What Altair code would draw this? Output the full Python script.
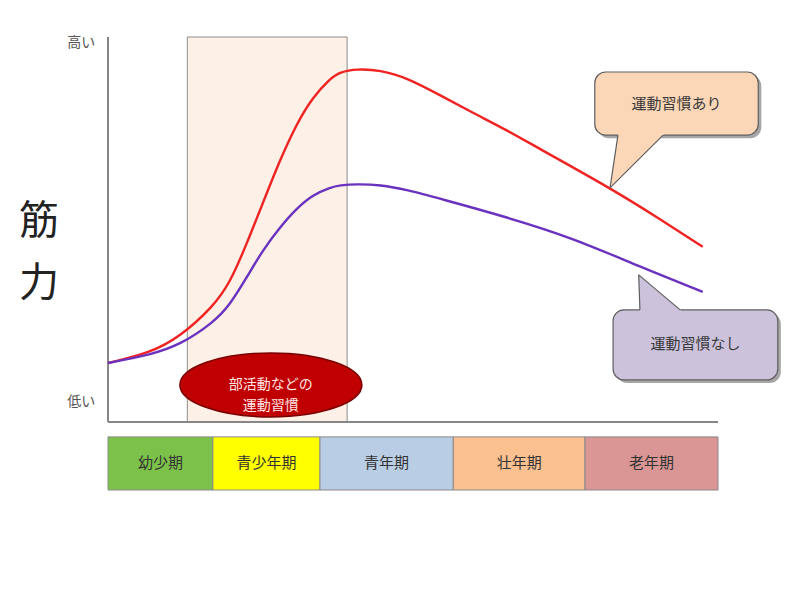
import altair as alt
import pandas as pd

FONT = "Noto Sans CJK JP"

# ---- curves (life course 0-100, strength 0=低い ... 100=高い) ----
AGE_ACTIVE = [0, 6.9, 11.8, 17.2, 20.0, 22.8, 25.4, 28.2, 31.0, 33.6, 36.4, 38.0, 40.8,
              44.6, 49.0, 54.4, 59.8, 65.4, 70.8, 82.3, 90.5, 97.5]
STR_ACTIVE = [15.3, 17.9, 22.1, 29.9, 36.1, 46.5, 56.9, 68.1, 77.7, 84.4, 89.2, 90.9, 91.7,
              91.4, 89.4, 84.9, 80.3, 75.8, 70.9, 60.8, 52.7, 45.5]
AGE_INACTIVE = [0, 6.9, 11.8, 17.2, 20.0, 22.8, 25.4, 28.2, 31.0, 33.6, 36.4, 38.0, 40.8,
                44.6, 49.0, 54.4, 65.4, 76.2, 87.2, 97.5]
STR_INACTIVE = [15.3, 17.4, 20.0, 25.7, 30.4, 37.7, 44.7, 50.6, 55.6, 59.0, 60.9, 61.5, 61.8,
                61.6, 60.3, 58.0, 53.2, 47.8, 40.3, 33.8]

# ---- life stages ----
STAGES = ["幼少期", "青少年期", "青年期", "壮年期", "老年期"]
STAGE_START = [0, 17.2, 34.75, 56.6, 78.2]
STAGE_END = [17.2, 34.75, 56.6, 78.2, 100]
STAGE_COLORS = ["#7cc24a", "#ffff00", "#b9cde5", "#fac090", "#d99694"]

# club-activity period
CLUB_START, CLUB_END = 13.0, 39.2

Y_MIN, Y_MAX = 0, 100
STRIP_TOP, STRIP_BOTTOM = -3.9, -17.7

X_SCALE = alt.Scale(domain=[0, 100], nice=False, zero=False)
Y_SCALE = alt.Scale(domain=[STRIP_BOTTOM, Y_MAX], nice=False, zero=False)


def X(f):
    return alt.X(f, type="quantitative", scale=X_SCALE, axis=None)


def Y(f):
    return alt.Y(f, type="quantitative", scale=Y_SCALE, axis=None)


# ---- club band ----
band = alt.Chart(pd.DataFrame({"x": [CLUB_START], "x2": [CLUB_END], "y": [Y_MIN], "y2": [Y_MAX]})).mark_rect(
    fill="#fdf0e7", stroke="#8c8c8c", strokeWidth=1
).encode(x=X("x"), x2="x2", y=Y("y"), y2="y2")

# ---- axes ----
axis_df = pd.DataFrame({"x": [0, 0], "x2": [0, 100], "y": [0, 0], "y2": [100, 0]})
axes = alt.Chart(axis_df).mark_rule(color="#868686", strokeWidth=2).encode(
    x=X("x"), x2="x2", y=Y("y"), y2="y2"
)

# ---- curves ----
active = alt.Chart(pd.DataFrame({"age": AGE_ACTIVE, "s": STR_ACTIVE})).mark_line(
    color="#f02222", strokeWidth=2.4, interpolate="basis"
).encode(x=X("age"), y=Y("s"))
inactive = alt.Chart(pd.DataFrame({"age": AGE_INACTIVE, "s": STR_INACTIVE})).mark_line(
    color="#6a32bf", strokeWidth=2.4, interpolate="basis"
).encode(x=X("age"), y=Y("s"))

# ---- ellipse annotation ----
ELL_X, ELL_Y = 26.7, 9.6
ellipse = alt.Chart(pd.DataFrame({"x": [ELL_X], "y": [ELL_Y]})).mark_point(
    shape="M -1 0 A 1 0.352 0 1 1 1 0 A 1 0.352 0 1 1 -1 0 Z",
    size=33124, filled=True, fill="#c00000", stroke="#7a0000", strokeWidth=1.5, opacity=1
).encode(x=X("x"), y=Y("y"))
ellipse_text = alt.Chart(pd.DataFrame({"x": [ELL_X], "y": [ELL_Y], "t": ["部活動などの\n運動習慣"]})).mark_text(
    font=FONT, fontSize=14, color="#ffe6e6", lineBreak="\n", lineHeight=21, baseline="middle", align="center"
).encode(x=X("x"), y=Y("y"), text="t:N")


# ---- callouts ----
def tri_area(tip, b1, b2, ext=1.0):
    # extend base points along the sides into the box
    def extend(b):
        dy = b[1] - tip[1]
        f = 1 + ext / abs(dy)
        return (tip[0] + (b[0] - tip[0]) * f, tip[1] + dy * f)
    e1, e2 = extend(b1), extend(b2)
    y2_at_e1 = tip[1] + (e1[0] - tip[0]) / (e2[0] - tip[0]) * (e2[1] - tip[1])
    return pd.DataFrame({"x": [tip[0], e1[0], e2[0]], "y": [tip[1], e1[1], e2[1]],
                         "y2": [tip[1], y2_at_e1, e2[1]]})


def callout(label, box, tip, b1, b2, fill, text_pos):
    x0, x1, y0, y1 = box
    shadow = alt.Chart(pd.DataFrame({"x": [x0 + 0.5], "x2": [x1 + 0.5], "y": [y0 - 0.8], "y2": [y1 - 0.8]})).mark_rect(
        fill="#808080", opacity=0.7, cornerRadius=11
    ).encode(x=X("x"), x2="x2", y=Y("y"), y2="y2")
    body = alt.Chart(pd.DataFrame({"x": [x0], "x2": [x1], "y": [y0], "y2": [y1]})).mark_rect(
        fill=fill, stroke="#5f5f5f", strokeWidth=1.2, cornerRadius=11
    ).encode(x=X("x"), x2="x2", y=Y("y"), y2="y2")
    ptr = alt.Chart(tri_area(tip, b1, b2)).mark_area(fill=fill, opacity=1).encode(
        x=X("x"), y=Y("y"), y2="y2"
    )
    edges = alt.Chart(pd.DataFrame({"x": [tip[0], b1[0], tip[0], b2[0]], "y": [tip[1], b1[1], tip[1], b2[1]],
                                    "e": ["a", "a", "b", "b"]})).mark_line(color="#5f5f5f", strokeWidth=1.2).encode(
        x=X("x"), y=Y("y"), detail="e:N"
    )
    txt = alt.Chart(pd.DataFrame({"x": [text_pos[0]], "y": [text_pos[1]], "t": [label]})).mark_text(
        font=FONT, fontSize=15, color="#3a3a3a", align="center", baseline="middle"
    ).encode(x=X("x"), y=Y("y"), text="t:N")
    return [shadow, body, ptr, edges, txt]


call_a = callout("運動習慣あり", (79.8, 106.6, 74.5, 90.9), (82.3, 60.8), (83.6, 74.5), (91.0, 74.5),
                 "#fbd6b7", (93.2, 82.6))
call_b = callout("運動習慣なし", (82.8, 109.8, 10.9, 29.1), (87.0, 38.2), (87.2, 29.1), (93.8, 29.1),
                 "#ccc2dc", (96.3, 20.3))

# ---- life stage strip ----
strip_df = pd.DataFrame({"stage": STAGES, "x": STAGE_START, "x2": STAGE_END,
                         "mid": [(a + b) / 2 for a, b in zip(STAGE_START, STAGE_END)],
                         "y": [STRIP_TOP] * 5, "y2": [STRIP_BOTTOM] * 5,
                         "ym": [(STRIP_TOP + STRIP_BOTTOM) / 2] * 5})
strip = alt.Chart(strip_df).mark_rect(stroke="#8a8a8a", strokeWidth=1).encode(
    x=X("x"), x2="x2", y=Y("y"), y2="y2",
    fill=alt.Fill("stage:N", scale=alt.Scale(domain=STAGES, range=STAGE_COLORS), legend=None)
)
strip_text = alt.Chart(strip_df).mark_text(font=FONT, fontSize=15, color="#333333").encode(
    x=X("mid"), y=Y("ym"), text="stage:N"
)

# ---- y labels ----
ylab = alt.Chart(pd.DataFrame({"x": [-2.1, -2.1], "y": [98.4, 5.2], "t": ["高い", "低い"]})).mark_text(
    font=FONT, fontSize=14, color="#555555", align="right", baseline="middle"
).encode(x=X("x"), y=Y("y"), text="t:N")
ytitle = alt.Chart(pd.DataFrame({"x": [-11.3], "y": [51.9], "t": ["筋\n力"]})).mark_text(
    font=FONT, fontSize=40, color="#222222", align="center", baseline="middle", lineBreak="\n", lineHeight=62
).encode(x=X("x"), y=Y("y"), text="t:N")

chart = alt.layer(
    band, axes, active, inactive, ellipse, ellipse_text, *call_a, *call_b, strip, strip_text, ylab, ytitle
).properties(
    width=610, height=453,
    autosize=alt.AutoSizeParams(type="none"),
    padding={"left": 100, "top": 29, "right": 70, "bottom": 90},
    background="white",
).configure_view(stroke=None)

chart.save("out.html", embed_options={"renderer": "svg", "actions": False})
